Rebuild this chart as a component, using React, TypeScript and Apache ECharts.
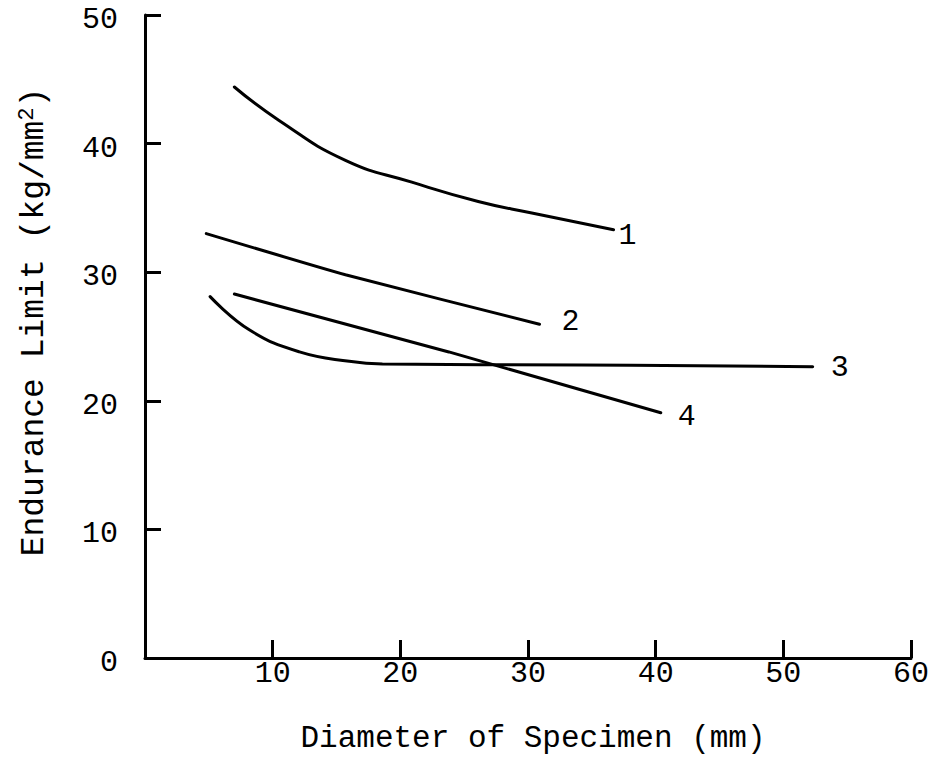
import React, { useEffect, useRef } from "react";
import * as echarts from "echarts";

// Diameter of specimen (mm) vs endurance limit (kg/mm²), four test curves
const curve1: [number, number][] = [
  [7.0, 44.4], [10.5, 41.8], [15.7, 38.7], [20.9, 37.0], [26.1, 35.5], [30.3, 34.6], [36.7, 33.3],
];
const curve2: [number, number][] = [[4.8, 33.0], [15.7, 29.8], [30.9, 25.95]];
const curve3: [number, number][] = [
  [5.1, 28.1], [8.2, 25.5], [12.1, 23.8], [16.0, 23.07], [18.6, 22.86], [34.2, 22.78], [52.3, 22.65],
];
const curve4: [number, number][] = [[7.0, 28.3], [23.8, 23.8], [40.4, 19.07]];

const curveNames = ["1", "2", "3", "4"];
const curveData = [curve1, curve2, curve3, curve4];
const curveSmooth = [0.5, 0.15, 0.45, false];
const labelOffsets: [number, number][] = [[5, 6], [22, -2], [18, 1], [17, 4]];

const xTickMin = 0;
const xTickMax = 60;
const xTickStep = 10;
const yTickMin = 0;
const yTickMax = 50;
const yTickStep = 10;

const xTitle = "Diameter of Specimen (mm)";
const yTitleMain = "Endurance Limit (kg/mm";
const yTitleSup = "2";
const yTitleEnd = ")";

const FONT = "'Liberation Mono', 'Courier New', monospace";

export default function App() {
  const ref = useRef<HTMLDivElement>(null);

  useEffect(() => {
    document.body.style.margin = "0";
    if (!ref.current) return;
    const chart = echarts.init(ref.current, undefined, { renderer: "svg" });

    const series = curveData.map((data, i) => ({
      type: "line",
      name: curveNames[i],
      data,
      smooth: curveSmooth[i],
      showSymbol: false,
      lineStyle: { color: "#000", width: 3, cap: "round" },
      endLabel: {
        show: true,
        formatter: "{a}",
        distance: 0,
        offset: labelOffsets[i],
        fontFamily: FONT,
        fontSize: 30,
        color: "#000",
      },
    }));

    chart.setOption({
      animation: false,
      backgroundColor: "#fff",
      grid: { left: 145, right: 18, top: 15, bottom: 99, containLabel: false },
      xAxis: {
        type: "value",
        min: xTickMin,
        max: xTickMax,
        interval: xTickStep,
        axisLine: { lineStyle: { color: "#000", width: 3 } },
        axisTick: { inside: true, length: 18, lineStyle: { color: "#000", width: 3 } },
        axisLabel: {
          fontFamily: FONT,
          fontSize: 30,
          color: "#000",
          margin: 4,
          lineHeight: 24,
          formatter: (v: number) => (v === 0 ? "" : String(v)),
        },
        splitLine: { show: false },
      },
      yAxis: {
        type: "value",
        min: yTickMin,
        max: yTickMax,
        interval: yTickStep,
        axisLine: { show: true, lineStyle: { color: "#000", width: 3 } },
        axisTick: { show: true, inside: true, length: 16, lineStyle: { color: "#000", width: 3 } },
        axisLabel: {
          fontFamily: FONT,
          fontSize: 30,
          color: "#000",
          margin: 27,
          verticalAlign: "top",
          lineHeight: 10,
        },
        splitLine: { show: false },
      },
      graphic: [
        {
          type: "text",
          x: 533,
          y: 738,
          style: {
            text: xTitle,
            fontFamily: FONT,
            fontSize: 31,
            fill: "#000",
            align: "center",
            verticalAlign: "middle",
          },
        },
        {
          type: "text",
          x: 34,
          y: 322,
          rotation: Math.PI / 2,
          style: {
            text: `{m|${yTitleMain}}{s|${yTitleSup}}{m|${yTitleEnd}}`,
            align: "center",
            verticalAlign: "middle",
            rich: {
              m: { fontFamily: FONT, fontSize: 33, fill: "#000", lineHeight: 36 },
              s: { fontFamily: FONT, fontSize: 22, fill: "#000", verticalAlign: "top", lineHeight: 36 },
            },
          },
        },
      ],
      series,
    });

    return () => chart.dispose();
  }, []);

  return <div ref={ref} style={{ width: 932, height: 757 }} />;
}
